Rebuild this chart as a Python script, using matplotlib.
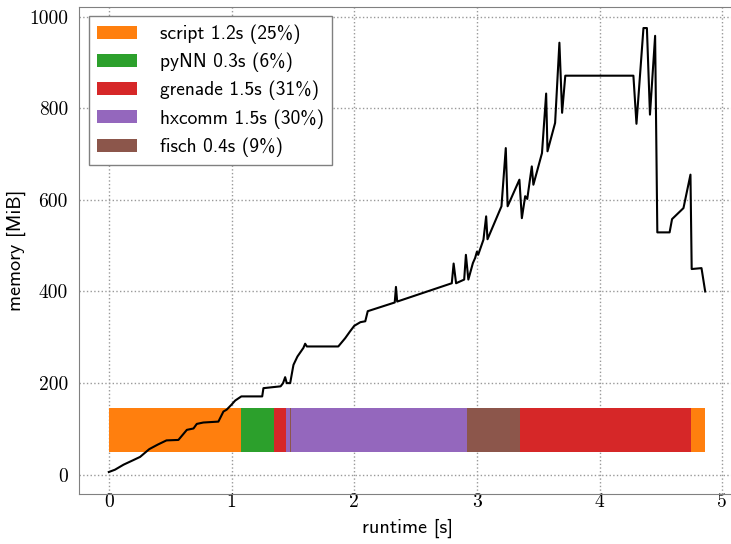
import matplotlib
matplotlib.use("Agg")
import matplotlib.pyplot as plt
from matplotlib.patches import Patch

# memory trace
runtime = [0.0, 0.05, 0.12, 0.20, 0.255, 0.33, 0.40, 0.47, 0.567, 0.636, 0.69,
           0.717, 0.77, 0.893, 0.934, 0.96, 1.0, 1.03, 1.08, 1.25, 1.26, 1.40,
           1.42, 1.437, 1.45, 1.478, 1.50, 1.505, 1.537, 1.586, 1.60, 1.614,
           1.87, 1.926, 1.966, 2.0, 2.05, 2.09, 2.11, 2.33, 2.34, 2.35, 2.795,
           2.81, 2.83, 2.863, 2.896, 2.91, 2.93, 2.967, 2.985, 3.0, 3.01, 3.053,
           3.075, 3.086, 3.20, 3.235, 3.25, 3.346, 3.366, 3.393, 3.41, 3.447,
           3.46, 3.53, 3.564, 3.575, 3.637, 3.672, 3.694, 3.72, 4.275, 4.30,
           4.357, 4.385, 4.41, 4.452, 4.47, 4.57, 4.59, 4.683, 4.74, 4.75, 4.83,
           4.86]
memory = [6, 11, 22, 32, 39, 56, 66, 75, 76, 98, 101,
          111, 114, 116, 138, 142, 153, 162, 171, 171, 189, 193,
          200, 213, 200, 200, 233, 240, 258, 277, 286, 280,
          280, 298, 313, 325, 333, 335, 357, 376, 410, 378, 418,
          461, 418, 422, 426, 480, 426, 462, 473, 487, 480, 513,
          564, 514, 586, 713, 586, 644, 560, 608, 602, 673,
          633, 702, 832, 706, 768, 943, 790, 871, 871, 766,
          975, 975, 786, 958, 529, 529, 558, 582, 655, 449, 451,
          400]

# phases of the run
phase_name = ["script", "pyNN", "grenade", "hxcomm", "fisch", "hxcomm",
              "fisch", "grenade", "script"]
phase_start = [0.0, 1.078, 1.347, 1.44, 1.476, 1.484, 2.918, 3.352, 4.743]
phase_end = [1.078, 1.347, 1.44, 1.476, 1.484, 2.918, 3.352, 4.743, 4.857]

legend_names = ["script", "pyNN", "grenade", "hxcomm", "fisch"]
legend_labels = ["script 1.2s (25%)", "pyNN 0.3s (6%)", "grenade 1.5s (31%)",
                 "hxcomm 1.5s (30%)", "fisch 0.4s (9%)"]
colors = {"script": "#ff7f0e", "pyNN": "#2ca02c", "grenade": "#d62728",
          "hxcomm": "#9467bd", "fisch": "#8c564b"}

plt.rcParams['font.family'] = ['cmss10', 'DejaVu Sans']
plt.rcParams['font.size'] = 14

fig = plt.figure(figsize=(7.31, 5.44), dpi=100)
ax = fig.add_axes([79 / 731, 50 / 544, 656 / 731, 487.5 / 544])

for name, s, e in zip(phase_name, phase_start, phase_end):
    ax.broken_barh([(s, e - s)], (50, 96), facecolors=colors[name], zorder=2)

ax.plot(runtime, memory, color="black", lw=1.5, zorder=3)

ax.set_xlim(-0.243, 5.103)
ax.set_ylim(-42, 1022)
ax.set_xticks([0, 1, 2, 3, 4, 5])
ax.set_yticks([0, 200, 400, 600, 800, 1000])
ax.grid(True, linestyle=":", color="0.6", lw=1, zorder=0)
ax.set_axisbelow(True)
ax.tick_params(axis="x", length=0, pad=-1)
ax.tick_params(axis="y", length=0, pad=8)
for lab in ax.get_xticklabels() + ax.get_yticklabels():
    lab.set_fontfamily('cmr10')
for sp in ax.spines.values():
    sp.set_color("0.5")

ax.set_xlabel("runtime [s]", fontsize=14.5, labelpad=6)
ax.set_ylabel("memory [MiB]", fontsize=14.5, labelpad=2)

handles = [Patch(facecolor=colors[n], edgecolor="none") for n in legend_names]
leg = ax.legend(handles, legend_labels, loc="upper left", fancybox=False,
                framealpha=1, edgecolor="0.5", handlelength=2.05,
                handleheight=0.65, labelspacing=0.45, borderpad=0.42,
                handletextpad=1.2, bbox_to_anchor=(0.0, 1.0),
                borderaxespad=0.5)
leg.get_frame().set_linewidth(1.0)

fig.savefig("out.png", dpi=100)
